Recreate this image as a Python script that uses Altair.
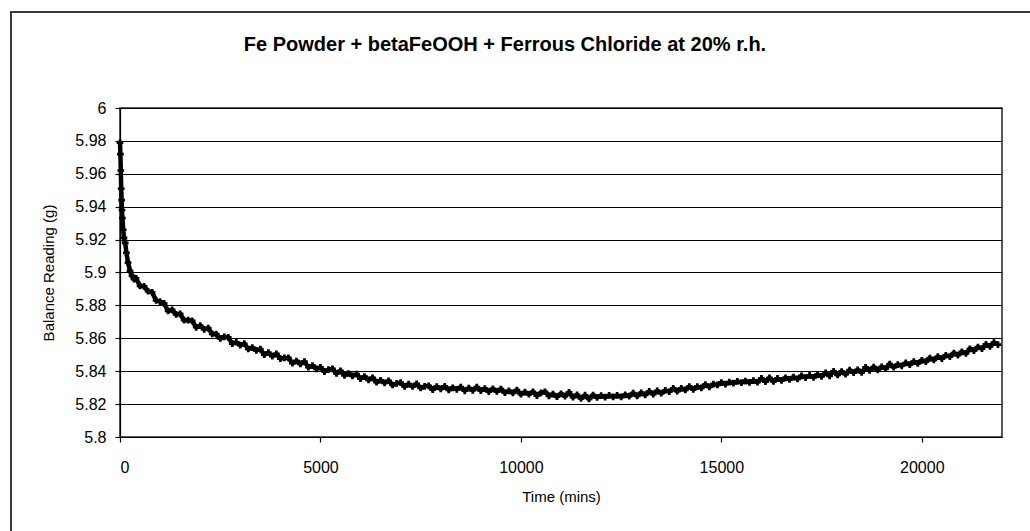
import altair as alt
import pandas as pd

# Balance reading (g) against elapsed time (mins)
time_mins = [
    0, 10, 20, 30, 40, 50, 60, 80, 100, 130, 160, 200, 250, 300, 350,
    400, 500, 600, 700, 800, 900, 1000, 1100, 1200, 1300, 1400, 1500, 1600, 1700, 1800, 1900,
    2000, 2100, 2200, 2300, 2400, 2500, 2600, 2700, 2800, 2900,
    3000, 3100, 3200, 3300, 3400, 3500, 3600, 3700, 3800, 3900,
    4000, 4100, 4200, 4300, 4400, 4500, 4600, 4700, 4800, 4900,
    5000, 5100, 5200, 5300, 5400, 5500, 5600, 5700, 5800, 5900,
    6000, 6100, 6200, 6300, 6400, 6500, 6600, 6700, 6800, 6900,
    7000, 7100, 7200, 7300, 7400, 7500, 7600, 7700, 7800, 7900,
    8000, 8100, 8200, 8300, 8400, 8500, 8600, 8700, 8800, 8900,
    9000, 9100, 9200, 9300, 9400, 9500, 9600, 9700, 9800, 9900,
    10000, 10100, 10200, 10300, 10400, 10500, 10600, 10700, 10800, 10900,
    11000, 11100, 11200, 11300, 11400, 11500, 11600, 11700, 11800, 11900,
    12000, 12100, 12200, 12300, 12400, 12500, 12600, 12700, 12800, 12900,
    13000, 13100, 13200, 13300, 13400, 13500, 13600, 13700, 13800, 13900,
    14000, 14100, 14200, 14300, 14400, 14500, 14600, 14700, 14800, 14900,
    15000, 15100, 15200, 15300, 15400, 15500, 15600, 15700, 15800, 15900,
    16000, 16100, 16200, 16300, 16400, 16500, 16600, 16700, 16800, 16900,
    17000, 17100, 17200, 17300, 17400, 17500, 17600, 17700, 17800, 17900,
    18000, 18100, 18200, 18300, 18400, 18500, 18600, 18700, 18800, 18900,
    19000, 19100, 19200, 19300, 19400, 19500, 19600, 19700, 19800, 19900,
    20000, 20100, 20200, 20300, 20400, 20500, 20600, 20700, 20800, 20900,
    21000, 21100, 21200, 21300, 21400, 21500, 21600, 21700, 21800, 21900,
]

reading_g = [
    5.9790, 5.9720, 5.9620, 5.9510, 5.9440, 5.9380, 5.9330, 5.9260, 5.9210, 5.9180, 5.9120, 5.9060, 5.9010, 5.8980, 5.8960,
    5.8965, 5.8918, 5.8916, 5.8886, 5.8880, 5.8831, 5.8823, 5.8812, 5.8766, 5.8773, 5.8745, 5.8748, 5.8710, 5.8710, 5.8706, 5.8667,
    5.8677, 5.8654, 5.8662, 5.8627, 5.8625, 5.8599, 5.8609, 5.8606, 5.8568, 5.8576,
    5.8558, 5.8567, 5.8535, 5.8543, 5.8527, 5.8534, 5.8500, 5.8513, 5.8492, 5.8505,
    5.8476, 5.8481, 5.8481, 5.8449, 5.8462, 5.8445, 5.8458, 5.8424, 5.8434, 5.8414,
    5.8424, 5.8398, 5.8410, 5.8414, 5.8386, 5.8402, 5.8375, 5.8386, 5.8371, 5.8383,
    5.8354, 5.8367, 5.8347, 5.8360, 5.8333, 5.8345, 5.8329, 5.8342, 5.8316, 5.8326,
    5.8330, 5.8307, 5.8321, 5.8307, 5.8323, 5.8298, 5.8308, 5.8311, 5.8288, 5.8306,
    5.8292, 5.8308, 5.8287, 5.8299, 5.8290, 5.8303, 5.8281, 5.8297, 5.8284, 5.8303,
    5.8282, 5.8294, 5.8276, 5.8293, 5.8277, 5.8291, 5.8269, 5.8280, 5.8268, 5.8285,
    5.8260, 5.8273, 5.8260, 5.8275, 5.8252, 5.8268, 5.8275, 5.8250, 5.8261, 5.8245,
    5.8263, 5.8248, 5.8272, 5.8242, 5.8256, 5.8234, 5.8254, 5.8232, 5.8255, 5.8240,
    5.8251, 5.8242, 5.8253, 5.8244, 5.8253, 5.8244, 5.8256, 5.8249, 5.8267, 5.8250,
    5.8268, 5.8256, 5.8278, 5.8261, 5.8280, 5.8266, 5.8283, 5.8275, 5.8296, 5.8279,
    5.8296, 5.8286, 5.8307, 5.8290, 5.8306, 5.8299, 5.8319, 5.8305, 5.8322, 5.8317,
    5.8331, 5.8322, 5.8333, 5.8328, 5.8338, 5.8331, 5.8340, 5.8332, 5.8343, 5.8333,
    5.8356, 5.8337, 5.8359, 5.8338, 5.8356, 5.8344, 5.8360, 5.8350, 5.8364, 5.8353,
    5.8372, 5.8361, 5.8374, 5.8363, 5.8379, 5.8368, 5.8390, 5.8372, 5.8399, 5.8377,
    5.8398, 5.8382, 5.8406, 5.8391, 5.8408, 5.8393, 5.8423, 5.8405, 5.8425, 5.8408,
    5.8427, 5.8416, 5.8443, 5.8424, 5.8440, 5.8433, 5.8450, 5.8440, 5.8458, 5.8447,
    5.8466, 5.8458, 5.8479, 5.8469, 5.8488, 5.8476, 5.8497, 5.8489, 5.8510, 5.8498,
    5.8518, 5.8508, 5.8536, 5.8525, 5.8547, 5.8537, 5.8563, 5.8551, 5.8574, 5.8562,
]

y_ticks = [5.80, 5.82, 5.84, 5.86, 5.88, 5.90, 5.92, 5.94, 5.96, 5.98, 6.00]
x_ticks = [0, 5000, 10000, 15000, 20000]

title_text = "Fe Powder + betaFeOOH + Ferrous Chloride at 20% r.h."
x_title = "Time (mins)"
y_title = "Balance Reading (g)"

df = pd.DataFrame({"time": time_mins, "reading": reading_g})

FONT = "Liberation Sans"
PLOT_W, PLOT_H = 882, 329

x_enc = alt.X(
    "time:Q",
    scale=alt.Scale(domain=[0, 22000], nice=False),
    axis=alt.Axis(
        values=x_ticks, tickCount=len(x_ticks), format="d", grid=False, title=x_title,
        tickSize=5, labelPadding=17, titlePadding=14, labelOverlap=False,
        titleFontWeight="normal",
    ),
)
y_enc = alt.Y(
    "reading:Q",
    scale=alt.Scale(domain=[5.8, 6.0], nice=False, zero=False),
    axis=alt.Axis(
        values=y_ticks, tickCount=len(y_ticks), format="~f", grid=True, title=y_title,
        tickSize=5, labelPadding=9, titlePadding=18, labelOverlap=False,
        titleFontWeight="normal",
    ),
)

band = alt.Chart(df).mark_line(color="black", strokeWidth=4.5).encode(x=x_enc, y=y_enc)
marks = alt.Chart(df).mark_point(
    shape="cross", filled=True, color="black", size=45, opacity=1
).encode(x="time:Q", y="reading:Q")

# outer frame around the whole figure
frame = alt.Chart(pd.DataFrame({"f": [0]})).mark_rect(
    fill=None, stroke="#3a3a3a", strokeWidth=2
).encode(
    x=alt.value(-109), x2=alt.value(PLOT_W + 60),
    y=alt.value(-96), y2=alt.value(PLOT_H + 130),
)

# chart heading
heading = alt.Chart(pd.DataFrame({"t": [title_text]})).mark_text(
    font=FONT, fontSize=20, fontWeight="bold", color="black",
    align="center", baseline="middle",
).encode(text="t:N", x=alt.value(385), y=alt.value(-63))

chart = alt.layer(frame, band, marks, heading).properties(
    width=PLOT_W,
    height=PLOT_H,
    autosize=alt.AutoSizeParams(type="none"),
    padding={"left": 120, "top": 108, "right": 28, "bottom": 94},
    background="white",
).configure_view(
    stroke="#222", strokeWidth=1.5
).configure_axis(
    domainColor="black", tickColor="black", gridColor="black", gridWidth=1,
    domainWidth=1.2, tickWidth=1.2,
    labelFont=FONT, labelFontSize=16, labelColor="black",
    titleFont=FONT, titleFontSize=15, titleFontWeight="normal", titleColor="black",
)

chart.save("out.html", embed_options={"renderer": "svg", "actions": False})
